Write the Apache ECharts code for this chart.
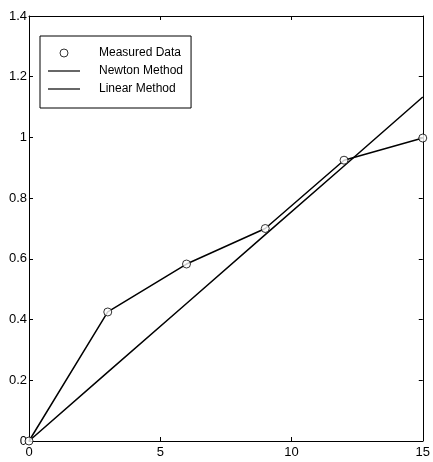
<!DOCTYPE html>
<html>
<head>
<meta charset="utf-8">
<script src="https://cdn.jsdelivr.net/npm/echarts@6/dist/echarts.min.js"></script>
<style>
  html, body { margin: 0; padding: 0; background: #fff; }
  #chart { width: 433px; height: 462px; }
</style>
</head>
<body>
<div id="chart"></div>
<script>
  // values
  const xValues = [0, 3, 6, 9, 12, 15]
  const measured = [0, 0.425, 0.583, 0.70, 0.925, 0.998]
  const newton = [0, 0.425, 0.583, 0.70, 0.925, 0.998]
  const linear = [0, 0.227, 0.453, 0.68, 0.906, 1.133]

  const pairs = (ys) => xValues.map((x, i) => [x, ys[i]])

  const chart = echarts.init(document.getElementById('chart'))

  const axisCommon = () => ({
    show: true,
    axisLine: { show: true, onZero: false, lineStyle: { color: '#000', width: 1 } },
    axisTick: { show: true, inside: true, length: 4, lineStyle: { color: '#000' } },
    splitLine: { show: false }
  })

  const lineIcon = 'path://M0,0H32V1.2H0Z'

  const options = {
    animation: false,
    backgroundColor: '#fff',
    grid: { left: 29, right: 7, top: 16, bottom: 21, containLabel: false },
    legend: {
      orient: 'vertical',
      left: 40,
      top: 36,
      padding: [10, 8, 12, 8],
      itemGap: 4,
      itemWidth: 32,
      itemHeight: 8,
      borderColor: '#000',
      borderWidth: 1,
      backgroundColor: '#fff',
      textStyle: {
        color: '#000',
        fontFamily: 'Liberation Sans',
        fontSize: 12,
        lineHeight: 14,
        padding: [0, 0, 0, 14]
      },
      data: [
        { name: 'Measured Data', icon: 'circle', itemStyle: { color: '#fff', borderColor: '#000', borderWidth: 1 } },
        { name: 'Newton Method', icon: lineIcon },
        { name: 'Linear Method', icon: lineIcon }
      ]
    },
    xAxis: [
      Object.assign(axisCommon(), {
        type: 'value', min: 0, max: 15, interval: 5, position: 'bottom',
        axisLabel: { color: '#000', fontFamily: 'Liberation Sans', fontSize: 13, margin: 5 }
      }),
      Object.assign(axisCommon(), {
        type: 'value', min: 0, max: 15, interval: 5, position: 'top',
        axisLabel: { show: false }
      })
    ],
    yAxis: [
      Object.assign(axisCommon(), {
        type: 'value', min: 0, max: 1.4, interval: 0.2, position: 'left',
        axisLabel: {
          color: '#000', fontFamily: 'Liberation Sans', fontSize: 13, margin: 2,
          formatter: (v) => String(Math.round(v * 10) / 10)
        }
      }),
      Object.assign(axisCommon(), {
        type: 'value', min: 0, max: 1.4, interval: 0.2, position: 'right',
        axisLabel: { show: false }
      })
    ],
    series: [
      {
        name: 'Measured Data',
        type: 'scatter',
        data: pairs(measured),
        symbol: 'circle',
        symbolSize: 8,
        itemStyle: { color: '#fff', borderColor: '#000', borderWidth: 1 },
        z: 5
      },
      {
        name: 'Newton Method',
        type: 'line',
        data: pairs(newton),
        symbol: 'none',
        lineStyle: { color: '#000', width: 1.5 },
        itemStyle: { color: '#000' }
      },
      {
        name: 'Linear Method',
        type: 'line',
        data: pairs(linear),
        symbol: 'none',
        lineStyle: { color: '#000', width: 1.5 },
        itemStyle: { color: '#000' }
      }
    ]
  }

  chart.setOption(options)
</script>
</body>
</html>
